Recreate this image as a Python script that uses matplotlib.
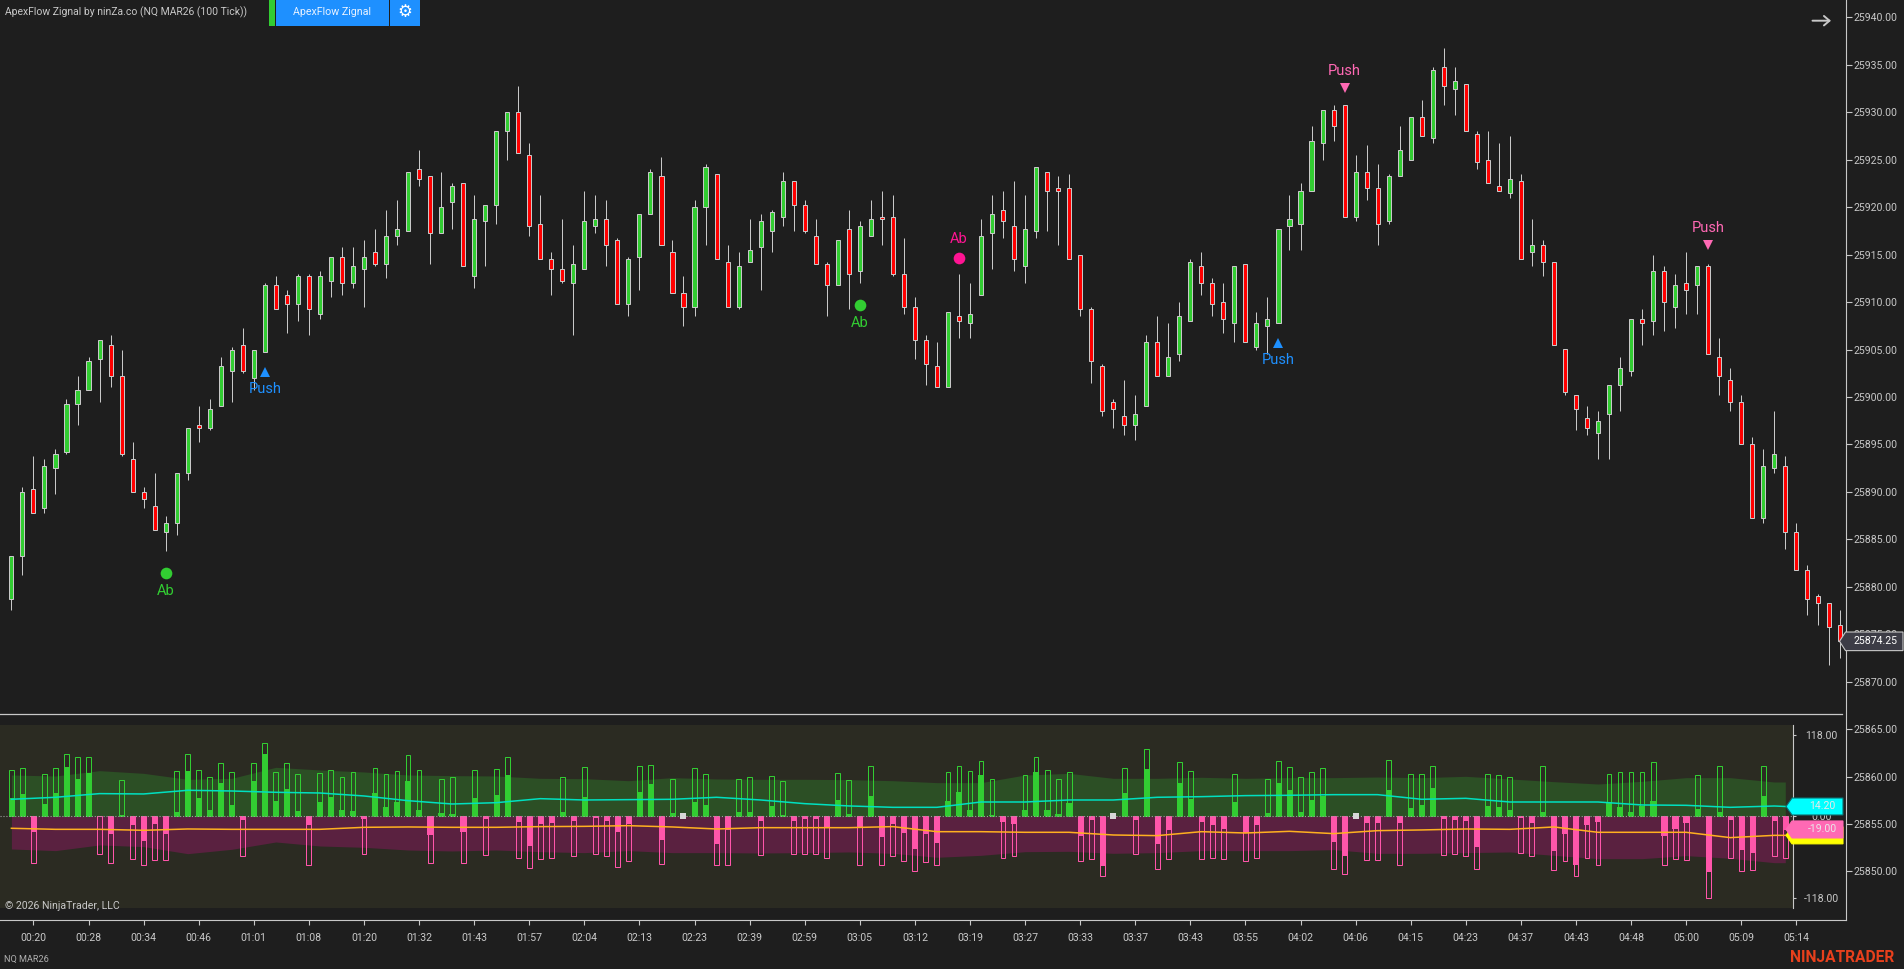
import numpy as np
import matplotlib
matplotlib.use("Agg")
import matplotlib.pyplot as plt
from matplotlib.patches import Polygon, Rectangle
from matplotlib.transforms import IdentityTransform

W, H = 1904, 969
BASE = 25800

# ---------- Candles (price minus BASE) ----------
opens = [
    78.75, 83.25, 90.25, 88.25, 92.5, 94.25, 99.25, 100.75, 104, 105.5,
    102.25, 93.5, 90, 88.5, 85.75, 86.75, 92, 97, 96.75, 99,
    102.75, 105.5, 102, 104.75, 111.75, 110.75, 109.75, 112.75, 108.75, 112.25,
    114.75, 112, 113.5, 115.25, 114, 117, 117.5, 124, 123.25, 117.25,
    120.5, 122.5, 112.75, 118.5, 120.25, 128, 130, 125.5, 118.25, 114.5,
    113.5, 112, 113.5, 118, 118.75, 116.5, 109.75, 114.75, 119.25, 123.25,
    115.25, 111, 109.5, 120, 123.5, 114.25, 109.5, 114.25, 115.75, 117.5,
    119, 122.75, 120.25, 117, 114, 111.75, 117.75, 113.25, 117, 119,
    119, 113, 109.5, 106, 103.25, 101, 108.5, 107.75, 110.75, 117.25,
    119.75, 118, 113.75, 117.5, 123.75, 122, 122, 115, 109.25, 103.25,
    99.5, 98, 97, 99, 105.75, 102.25, 104.5, 108, 113.75, 112,
    110, 107.75, 114, 105.25, 107.5, 107.75, 118, 118.25, 121.75, 126.75,
    130.25, 130.75, 119, 123.75, 122, 118.5, 123.25, 125, 129.5, 127.25,
    134.75, 132.5, 133, 127.75, 125, 122.25, 121.5, 122.75, 115.25, 116,
    114.25, 105, 100.25, 97.75, 96.25, 98.25, 101.25, 102.75, 108.25, 108,
    113.25, 109.5, 112, 111.75, 113.75, 104.25, 101.75, 99.5, 95, 87.25,
    92.5, 92.75, 85.75, 81.75, 79, 78.25, 76,
]
highs = [
    83.25, 90.5, 93.75, 93.5, 94.5, 99.75, 102.25, 104.25, 106, 106.5,
    105, 95.25, 90.5, 92, 87.5, 92, 96.75, 99, 99.75, 104.25,
    105.25, 107.25, 105, 112, 112.75, 111.25, 113, 113, 113.25, 114.75,
    115.75, 115.75, 116.5, 117.75, 119.75, 120.75, 123.75, 126, 123.25, 123.75,
    122.5, 122.5, 121.25, 120.25, 128, 130, 132.75, 126.75, 121.25, 115.25,
    118.75, 116, 121.75, 121.25, 120.75, 116.75, 114.75, 119.25, 124, 125.25,
    116.5, 112.75, 120.75, 124.5, 123.5, 116, 115.25, 118.75, 119.25, 119.75,
    123.75, 122.75, 120.75, 118.75, 114.25, 116.5, 119.75, 118.5, 120.75, 121.75,
    121.25, 116.75, 110.5, 106.5, 105.75, 109, 113, 112, 118.75, 121.25,
    121.75, 122.75, 121.25, 124.25, 123.75, 123.25, 123.5, 115, 109.5, 103.5,
    99.75, 101.75, 100.25, 106.5, 108.5, 107.75, 110, 114.5, 115.25, 112.5,
    112, 113.75, 114, 109, 110.5, 117.75, 121.25, 122.5, 128.5, 130.25,
    130.75, 130.75, 125.5, 126.5, 124.5, 123.5, 128.5, 129.5, 131.25, 134.75,
    136.75, 134.75, 133, 128, 128, 126.75, 127.5, 123.5, 118.75, 116.5,
    114.25, 105, 100.25, 99, 98.5, 101.25, 104.25, 108.25, 109.25, 115,
    113.75, 113, 115.25, 113.75, 114, 106.25, 103, 100.25, 95.75, 94.5,
    98.5, 93.75, 86.75, 82.25, 79.25, 78.25, 77.5,
]
lows = [
    77.5, 81.25, 87.75, 87.75, 89.75, 94, 97, 100.75, 99.5, 101,
    93.75, 90, 88.25, 86, 83.75, 85.5, 91.25, 95.25, 96.5, 99,
    99.5, 102.5, 100.75, 104.75, 109.25, 106.75, 108, 106.5, 108.25, 110.5,
    110.75, 111.5, 109.5, 113.75, 112.5, 116, 117.5, 122.25, 114, 117.25,
    117.75, 113.75, 111.5, 113.75, 118.25, 125, 125.75, 117, 114.5, 110.75,
    112, 106.5, 113.5, 117.25, 113.75, 109.75, 108.5, 111.25, 119.25, 116,
    111, 107.5, 108.5, 116, 114.5, 109.5, 109.25, 114.25, 111.25, 115.25,
    118, 117.5, 117.25, 114, 108.5, 111.75, 109.25, 112, 117, 116,
    112.75, 108.75, 104, 101.25, 101, 101, 106.25, 106.25, 110.75, 113.5,
    116.75, 113.25, 112, 116.75, 117.5, 116, 114.5, 108.5, 101.5, 98,
    96.75, 96, 95.5, 99, 102.25, 102.25, 103.75, 108, 110.75, 108.5,
    106.75, 105.75, 105.75, 105, 104.5, 107.75, 115.5, 115.5, 121.75, 125,
    127, 119, 118.5, 120.75, 116, 118.25, 123.25, 125, 127.5, 126.75,
    130.75, 129.75, 128, 124, 122.5, 121.75, 121, 114.5, 113.75, 112.75,
    105.5, 100.25, 96.5, 96, 93.5, 93.5, 98.5, 102.25, 105.5, 106.5,
    107, 107.25, 108.75, 108.75, 104.5, 100.25, 98.5, 95, 87.25, 86.75,
    92, 84, 81.75, 77, 76, 71.75, 72.5,
]
closes = [
    83.25, 90, 87.75, 92.75, 94, 99.25, 100.75, 103.75, 106, 102.25,
    94, 90, 89.25, 86, 86.75, 92, 96.75, 96.75, 98.75, 103.25,
    105, 102.75, 105, 111.75, 109.25, 109.75, 112.75, 109.25, 112.75, 114.75,
    112, 113.75, 114.75, 114, 117, 117.75, 123.75, 123, 117.25, 120,
    122.25, 113.75, 118.75, 120.25, 128, 130, 125.75, 118, 114.5, 113.5,
    112.25, 114, 118.5, 118.75, 116, 109.75, 114.5, 119.25, 123.75, 116,
    111, 109.5, 120, 124.25, 114.5, 109.5, 113.75, 115.5, 118.5, 119.5,
    122.75, 120.25, 117.5, 114, 111.75, 116.5, 113, 118, 118.75, 118.75,
    113, 109.5, 106, 103.5, 101, 109, 108, 108.75, 117, 119.25,
    118.5, 114.5, 117.75, 124.25, 121.75, 121.75, 114.5, 109.25, 103.75, 98.5,
    98.75, 97, 98.25, 105.75, 102.25, 104.25, 108.5, 114.25, 112, 109.75,
    108.25, 113.75, 105.75, 107.75, 108.25, 117.75, 118.75, 121.75, 127, 130.25,
    128.5, 119, 123.75, 122, 118.25, 123.25, 126, 129.5, 127.5, 134.5,
    132.75, 133.25, 128, 124.75, 122.5, 121.75, 123, 114.5, 116, 114.25,
    105.5, 100.5, 98.75, 96.75, 97.5, 101.25, 103, 108.25, 107.75, 113.25,
    110, 111.75, 111.25, 113.75, 104.5, 102.25, 99.5, 95, 87.25, 92.75,
    94, 85.75, 81.75, 78.75, 78.25, 75.75, 74.25,
]

# ---------- Indicator histogram ----------
ind_total = [
    66.5, 69.4, -67, 60.7, 69.4, 89.6, 85.3, 85.3, -54, -67,
    52, -61.2, -69.8, -62.6, -62.6, 65, 89.6, 66.5, 56.4, 76.6,
    63.6, -56.8, 76.6, 105.5, 63.6, 76.6, 60.7, -69.8, 62.1, 66.5,
    56.4, 63.6, -54, 69.4, 60.7, 65, 88.2, 66.5, -67, 53.5,
    56.4, -67, 66.5, -55.4, 67.9, 85.3, -59.7, -74.2, -61.2, -59.7,
    56.4, -56.8, 70.8, -54, -56.8, -72.7, -64.1, 72.3, 73.7, -68.4,
    53.5, 0, 69.4, 60.7, -69.8, -69.8, 53.5, 56.4, -55.4, 57.8,
    50.6, -54, -54, -54, -59.7, 62.1, 52, -69.8, 72.3, -69.8,
    -56.8, -64.1, -78.5, -65.5, -69.8, 63.6, 72.3, 65, 79.5, 53.5,
    -59.7, -56.8, 59.2, 85.3, 66.5, 53.5, 63.6, -64.1, -61.2, -85.7,
    0, 69.4, -54, 96.8, -75.6, -61.2, 78, 65, -61.2, -59.7,
    -61.2, 60.7, -64.1, -59.7, 53.5, 79.5, 70.8, 56.4, 63.6, 69.4,
    -75.6, -82.9, 0, -62.6, -62.6, 80.9, -69.8, 60.7, 60.7, 72.3,
    -55.4, -54, -56.8, -75.6, 60.7, 59.2, 56.4, -52.5, -56.8, 72.3,
    -77.1, -64.1, -85.7, -59.7, -69.8, 60.7, 63.6, 63.6, 63.6, 78,
    -69.8, -61.2, -62.6, 59.2, -117.5, 72.3, -59.7, -78.5, -77.1, 72.3,
    -56.8, -59.7,
]
ind_fill = [
    26.5, 32.3, -22.2, 17.8, 33.7, 71.3, 54, 62.6, -1.4, -25.5,
    1.4, -12.5, -35.2, -11.1, -25.5, 6.3, 65.5, 26.5, 9.2, 48.2,
    16.4, -5.3, 51.1, 90.1, 22.2, 39.5, 7.7, -12.5, 20.7, 27.9,
    9.2, 7.7, -3.9, 33.7, 13.5, 20.7, 51.1, 9.2, -27, 4.8,
    3.4, -22.2, 26.5, -3.9, 30.8, 59.7, -8.2, -42.9, -11.1, -9.6,
    6.3, -6.7, 27.9, -2.4, -6.7, -22.6, -11.1, 35.2, 46.7, -34.2,
    4.8, 0, 20.7, 16.4, -40, -19.7, 6.3, 6.3, -6.7, 14.9,
    1.4, -6.7, -3.9, -3.9, -16.4, 23.6, 3.4, -15.9, 29.4, -29.9,
    -11.6, -24.1, -47.2, -25.5, -38.5, 22.2, 35.2, 9.2, 59.7, 1.4,
    -8.2, -11.1, 9.2, 63.6, 9.2, 3.4, 19.3, -28.4, -5.3, -71.8,
    0, 33.7, -5.3, 68.4, -40, -19.7, 48.2, 25, -8.2, -12.5,
    -18.3, 20.7, -24.1, -12.5, 4.8, 48.2, 38.1, 6.3, 23.6, 29.4,
    -37.1, -56.8, 0, -9.6, -9.6, 38.1, -9.6, 12, 16.4, 40.9,
    -3.9, -5.3, -6.7, -44.3, 14.9, 13.5, 9.2, -1.9, -9.6, 6.3,
    -50.1, -25.5, -70.3, -12.5, -8.2, 20.7, 13.5, 6.3, 14.9, 22.2,
    -28.4, -18.3, -9.6, 10.6, -80.4, 6.3, -5.3, -48.7, -53, 29.4,
    -6.7, -19.7,
]
neutral_idx = [61, 100, 122]

# bands and averages, read every fourth bar
band_idx = list(range(0, 161, 4)) + [161]
band_upper = [
    59.7, 58.3, 66, 62.1, 53.5, 54.9, 70.8, 67, 64.1, 59.7, 58.8, 58.3, 54.9, 54.4, 51.5,
    55.9, 54, 53.5, 53.5, 53, 51.5, 48.7, 48.7, 59.7, 62.1, 54.9, 54.9, 56.4, 54.9,
    55.9, 55.9, 56.8, 55.9, 57.8, 54, 50.1, 46.7, 50.6, 55.9, 55.9, 49.6, 49.6,
]
band_lower = [
    -47.2, -49.6, -41.4, -43.8, -54, -47.7, -37.1, -42.9, -44.8, -48.7, -50.1, -48.7, -51.1, -52.5, -49.6,
    -52.5, -52.5, -53, -52.5, -51.5, -53.5, -59.2, -56.4, -51.1, -50.6, -53.5, -52.5, -49.6, -49.6,
    -49.6, -48.2, -53.5, -53.5, -52.5, -51.5, -56.4, -61.2, -61.2, -56.8, -60.7, -67, -67,
]
avg_up = [
    24.6, 27.5, 32.8, 32.3, 37.6, 36.6, 34.7, 33.7, 29.4, 22.6, 17.8, 19.7, 25.5, 23.6, 24.1,
    24.6, 27.5, 23.6, 18.3, 15, 13, 13, 20.7, 20.7, 23.6, 23.6, 27.5, 28.4, 29.9,
    30.4, 31.3, 31.3, 24.6, 26, 20.7, 20.7, 20.7, 16.4, 15.9, 13, 14.9, 14.2,
]
avg_down = [
    -17.3, -18.8, -18.8, -20.2, -18.3, -18.8, -18.8, -18.8, -15.9, -15.4, -15.9, -15.9, -14.9, -14.5, -13.5,
    -15.4, -18.3, -16.4, -16.4, -16.4, -14.9, -22.2, -22.2, -23.1, -23.1, -27, -27.9, -22.2, -24.1,
    -21.7, -25, -20.7, -19.7, -18.3, -18.8, -15.4, -23.1, -23.1, -23.1, -30.8, -27.5, -27.5,
]

# ---------- Signals: bar, marker price, label price ----------
push_up_idx = [23, 115]
push_up_price = [25902.63, 25905.68]
push_up_text = [25900.84, 25903.89]
push_down_idx = [121, 154]
push_down_price = [25932.56, 25916.01]
push_down_text = [25934.38, 25917.8]
ab_up_idx = [14, 77]
ab_up_price = [25881.45, 25909.72]
ab_up_text = [25879.58, 25907.82]
ab_down_idx = [86]
ab_down_price = [25914.67]
ab_down_text = [25916.68]

# ---------- Axis labels ----------
time_labels = [
    "00:20", "00:28", "00:34", "00:46", "01:01", "01:08", "01:20", "01:32", "01:43", "01:57", "02:04",
    "02:13", "02:23", "02:39", "02:59", "03:05", "03:12", "03:19", "03:27", "03:33", "03:37", "03:43",
    "03:55", "04:02", "04:06", "04:15", "04:23", "04:37", "04:43", "04:48", "05:00", "05:09", "05:14",
]
price_ticks = list(range(25850, 25945, 5))
ind_ticks = [118, 0, -118]
last_price = 25874.25
up_label, down_label, band_label = 14.20, -19.00, -27.50

BG = "#1E1E1E"
PANEL = "#2B2B22"
AXIS = "#C8C8C8"
GREEN = "#32CD32"
RED = "#FF0000"
PINK = "#FF55AA"
BLUE = "#1E90FF"

plt.rcParams["font.family"] = ["Roboto", "DejaVu Sans"]


def fig_rect(left, top, right, bottom):
    # pixel box measured from the top left corner -> figure fractions
    return [left / W, 1 - bottom / H, (right - left) / W, (bottom - top) / H]


def px_text(x, y, s, **kw):
    kw.setdefault("va", "center")
    return fig.text(x / W, 1 - y / H, s, **kw)


def px_box(left, top, right, bottom, color):
    fig.add_artist(Rectangle((left / W, 1 - bottom / H), (right - left) / W, (bottom - top) / H,
                             transform=fig.transFigure, facecolor=color, edgecolor="none"))


def value_tag(ax, value, text, color, edge=None, txt="#E8E8E8", left=1786, right=1843, half=8.5, z=5):
    # arrow shaped label, x in pixels, y follows the axis scale
    y = ax.transData.transform((0, value))[1]
    pts = [(left, y), (left + 6, y + half), (right, y + half), (right, y - half), (left + 6, y - half)]
    fig.add_artist(Polygon(pts, closed=True, transform=IdentityTransform(), facecolor=color,
                           edgecolor=edge or color, linewidth=0.8, zorder=z))
    fig.text((left + 36) / W, y / H, text, color=txt, fontsize=7.6, ha="center", va="center", zorder=z + 1)


fig = plt.figure(figsize=(W / 100, H / 100), dpi=100, facecolor=BG)

x_at = lambda px: (px - 11.4) / 11.018

# ---------- Price panel ----------
ax = fig.add_axes(fig_rect(0, 0, 1845.5, 920.3), facecolor=BG)
ax.set_xlim(x_at(0), x_at(1845.5))
ax.set_ylim(25905 - (920.3 - 349.5) / 9.49, 25905 + 349.5 / 9.49)

idx = np.arange(len(opens))
o = BASE + np.array(opens)
h = BASE + np.array(highs)
l = BASE + np.array(lows)
c = BASE + np.array(closes)
colors = [GREEN if cl >= op else RED for op, cl in zip(o, c)]

ax.vlines(idx, l, h, color=AXIS, linewidth=0.72, zorder=2, snap=True)
ax.bar(idx, np.abs(c - o), bottom=np.minimum(o, c), width=0.37, color=colors, edgecolor=AXIS,
       linewidth=0.72, zorder=3)

ax.plot(push_up_idx, push_up_price, "^", color=BLUE, ms=7.2, mew=0, ls="none", zorder=4)
ax.plot(push_down_idx, push_down_price, "v", color="#FF69B4", ms=7.2, mew=0, ls="none", zorder=4)
ax.plot(ab_up_idx, ab_up_price, "o", color=GREEN, ms=8.4, mew=0, ls="none", zorder=4)
ax.plot(ab_down_idx, ab_down_price, "o", color="#FF1493", ms=8.4, mew=0, ls="none", zorder=4)
for i, p in zip(push_up_idx, push_up_text):
    ax.text(i, p, "Push", color=BLUE, fontsize=10.5, ha="center", va="center", zorder=5)
for i, p in zip(push_down_idx, push_down_text):
    ax.text(i, p, "Push", color="#FF69B4", fontsize=10.5, ha="center", va="center", zorder=5)
for i, p in zip(ab_up_idx, ab_up_text):
    ax.text(i, p, "Ab", color=GREEN, fontsize=10.5, ha="center", va="center", zorder=5)
for i, p in zip(ab_down_idx, ab_down_text):
    ax.text(i, p, "Ab", color="#FF1493", fontsize=10.5, ha="center", va="center", zorder=5)

for side in ("top", "left"):
    ax.spines[side].set_visible(False)
for side in ("right", "bottom"):
    ax.spines[side].set_color(AXIS)
    ax.spines[side].set_linewidth(0.8)
ax.yaxis.tick_right()
ax.set_yticks(price_ticks)
ax.set_yticklabels([f"{p:.2f}" for p in price_ticks])
ax.set_xticks(np.arange(len(time_labels)) * 5 + 2)
ax.set_xticklabels(time_labels)
ax.tick_params(axis="y", colors=AXIS, labelsize=7.6, length=4, width=0.8, pad=2)
ax.tick_params(axis="x", colors=AXIS, labelsize=7.6, length=3.5, width=0.8, pad=6)

# ---------- Indicator panel ----------
ax2 = fig.add_axes(fig_rect(0, 724.7, 1792.6, 908), facecolor=PANEL)
ax2.set_xlim(x_at(0), x_at(1792.6))
ax2.set_ylim(-132.5, 132.4)

ax2.fill_between(band_idx, 0, band_upper, color="#2C4F25", linewidth=0, zorder=1)
ax2.fill_between(band_idx, band_lower, 0, color="#5A2140", linewidth=0, zorder=1)

ind_x = np.arange(len(ind_total))
ind_total = np.array(ind_total)
ind_fill = np.array(ind_fill)
bar_cols = [GREEN if v > 0 else PINK for v in ind_total]
ax2.bar(ind_x, ind_fill, width=0.48, color=bar_cols, linewidth=0, zorder=2)
ax2.bar(ind_x, ind_total, width=0.44, facecolor="none", edgecolor=bar_cols, linewidth=0.72, zorder=3)
ax2.plot(band_idx, avg_up, color="#00E0C0", linewidth=1.1, zorder=4)
ax2.plot(band_idx, avg_down, color="#FFB020", linewidth=1.1, zorder=4)
ax2.axhline(0, color="#A0A0A0", linewidth=0.8, linestyle=":", zorder=5)
ax2.plot(neutral_idx, [0] * len(neutral_idx), "s", color="#D8D8D8", ms=3.9, mew=0, ls="none", zorder=6)

for side in ("top", "left", "bottom"):
    ax2.spines[side].set_visible(False)
ax2.spines["right"].set_color(AXIS)
ax2.spines["right"].set_linewidth(0.8)
ax2.set_xticks([])
ax2.yaxis.tick_right()
ax2.set_yticks(ind_ticks)
ax2.set_yticklabels([f"{v:.2f}" for v in ind_ticks])
ax2.tick_params(axis="y", colors=AXIS, labelsize=7.6, length=2.4, width=0.8, pad=18.4)
for lab in ax2.get_yticklabels():
    lab.set_horizontalalignment("center")

# ---------- Value tags ----------
value_tag(ax2, band_label, f"{band_label:.2f}", "#FFFF00", txt="#D8D8D8", z=5)
value_tag(ax2, down_label, f"{down_label:.2f}", "#FF69B4", z=7)
value_tag(ax2, up_label, f"{up_label:.2f}", "#00FFFF", edge="#0E6F70", z=5)
value_tag(ax, last_price, f"{last_price:.2f}", "#3C3C46", edge=AXIS, txt="#FFFFFF",
          left=1839.5, right=1903, half=9.3, z=9)

# ---------- Chrome ----------
fig.add_artist(plt.Line2D([0, 1842 / W], [1 - 714.3 / H] * 2, transform=fig.transFigure, color=AXIS, linewidth=0.9))
px_text(5, 12, "ApexFlow Zignal by ninZa.co (NQ MAR26 (100 Tick))", color=AXIS, fontsize=7.45)
px_box(269, 0, 275, 26, GREEN)
px_box(276, 0, 389, 26, BLUE)
px_box(390, 0, 420, 26, BLUE)
px_text(332, 12, "ApexFlow Zignal", color="#E8F2FF", fontsize=7.7, ha="center")
px_text(405, 12, "\u2699", color="white", fontsize=12, ha="center", family="DejaVu Sans")
fig.add_artist(plt.matplotlib.patches.FancyArrowPatch(
    (1812.5 / W, 1 - 20.7 / H), (1831 / W, 1 - 20.7 / H), transform=fig.transFigure,
    arrowstyle="->,head_length=4,head_width=3.4", color=AXIS, linewidth=1.4, mutation_scale=1,
    shrinkA=0, shrinkB=0))
px_text(5, 906, "\u00a9 2026 NinjaTrader, LLC", color=AXIS, fontsize=7.6)
px_text(4, 959, "NQ MAR26", color="#B0B0B0", fontsize=6.6)
px_text(1790, 958, "NINJATRADER", color="#E8401C", fontsize=11.2, fontweight="bold")

fig.savefig("out.png", dpi=100, facecolor=BG)
